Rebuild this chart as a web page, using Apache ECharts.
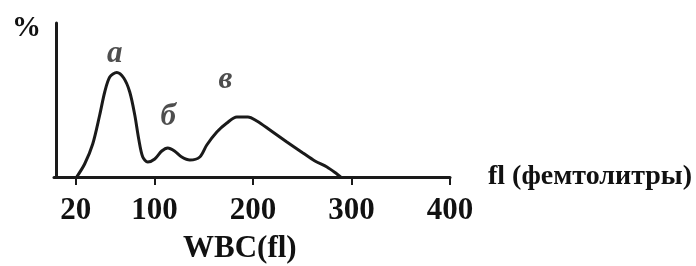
<!DOCTYPE html>
<html>
<head>
<meta charset="utf-8">
<style>html,body{margin:0;padding:0;background:#fff}#c{width:696px;height:266px}</style>
<script src="https://cdn.jsdelivr.net/npm/echarts@6/dist/echarts.min.js"></script>
</head>
<body>
<div id="c"></div>
<script>
// WBC histogram curve: cell volume (fl) vs relative count (arbitrary height units)
const volumes = [21, 29.1, 37.3, 44.4, 49.5, 54.6, 61.7, 68.8, 74.9, 80, 84, 88.1, 93.2, 100.3, 107.4, 113.5, 120.3, 127.7, 135.9, 146, 153.1, 163.3, 173.5, 183.6, 194.8, 203.9, 217.2, 234.4, 250.7, 262.9, 275.1, 285.2, 289];
const counts  = [0, 13, 33, 62, 85, 100, 104.5, 99, 85, 62, 38, 20, 15, 18, 26, 29, 26, 20, 17, 20, 32, 45, 54, 60, 60, 56, 47, 35, 24, 16, 10, 3, 0];
const tickValues = [20, 100, 200, 300, 400];
// peak annotations
const peakLabels = ['а', 'б', 'в'];
const peakX = [59.6, 114, 172];
const peakY = [123, 60, 97];

const serif = 'Liberation Serif';
const chart = echarts.init(document.getElementById('c'));
chart.setOption({
  animation: false,
  grid: {left: 54, right: 246, top: 23, bottom: 89},
  xAxis: {
    type: 'value', min: -2, max: 400,
    name: 'fl (фемтолитры)', nameLocation: 'end', nameGap: 38,
    nameTextStyle: {fontFamily: serif, fontWeight: 'bold', fontSize: 28, color: '#111', verticalAlign: 'middle', padding: [0, 0, 8, 0]},
    splitLine: {show: false},
    axisLine: {show: true, lineStyle: {color: '#1a1a1a', width: 3}},
    axisTick: {show: true, customValues: tickValues, length: 8, lineStyle: {color: '#1a1a1a', width: 2}},
    axisLabel: {customValues: tickValues, margin: 18, fontFamily: serif, fontWeight: 'bold', fontSize: 31, color: '#111'}
  },
  yAxis: {
    type: 'value', min: 0, max: 154,
    splitLine: {show: false},
    axisLine: {show: true, lineStyle: {color: '#1a1a1a', width: 3}},
    axisTick: {show: false},
    axisLabel: {show: false}
  },
  graphic: [
    {type: 'text', left: 12, top: 14, style: {text: '%', font: 'bold 29px "Liberation Serif"', fill: '#111'}},
    {type: 'text', left: 183, top: 233, style: {text: 'WBC(fl)', font: 'bold 31px "Liberation Serif"', fill: '#111'}}
  ],
  series: [
    {
      type: 'line', smooth: 0.3, showSymbol: false,
      data: volumes.map((v, i) => [v, counts[i]]),
      lineStyle: {color: '#1a1a1a', width: 3}
    },
    {
      type: 'scatter', symbolSize: 0,
      data: peakX.map((v, i) => ({value: [v, peakY[i]], name: peakLabels[i]})),
      label: {show: true, position: 'inside', formatter: p => p.name, fontFamily: serif, fontStyle: 'italic', fontWeight: 'bold', fontSize: 31, color: '#222'}
    }
  ]
});
</script>
</body>
</html>
